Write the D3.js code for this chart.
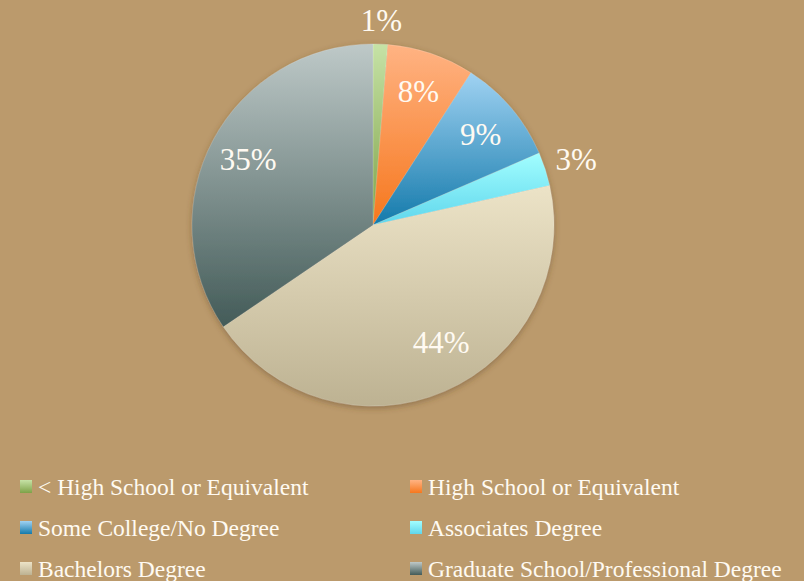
<!DOCTYPE html>
<html>
<head>
<meta charset="utf-8">
<script src="https://d3js.org/d3.v7.min.js"></script>
</head>
<body style="margin:0; background:#bb9a6c">
<svg></svg>
<script>
const width = 804;
const height = 581;

// data (shares in %, clockwise from 12 o'clock)
const categories = [
  '< High School or Equivalent',
  'High School or Equivalent',
  'Some College/No Degree',
  'Associates Degree',
  'Bachelors Degree',
  'Graduate School/Professional Degree'
];
const values = [1.3, 7.8, 9.4, 3.0, 44.0, 34.5];
const labels = ['1%', '8%', '9%', '3%', '44%', '35%'];
const topColors = ['#c6e2a6', '#ffb383', '#a0d2f2', '#a2feff', '#ece3c7', '#bec9c8'];
const bottomColors = ['#7ea248', '#f6771d', '#147aab', '#5fd6ec', '#bdb292', '#435b58'];

const center = [373, 225];
const radius = 181;
// where each label sits, as a share of the radius (small slices get theirs outside)
const labelRadius = { '1%': 1.13, '3%': 1.18 };

const svg = d3.select('svg')
  .attr('width', width)
  .attr('height', height)
  .style('display', 'block');

const defs = svg.append('defs');

categories.forEach((c, i) => {
  const g = defs.append('linearGradient')
    .attr('id', 'grad' + i)
    .attr('x1', 0).attr('y1', 0)
    .attr('x2', 0).attr('y2', 1);
  g.append('stop').attr('offset', '0%').attr('stop-color', topColors[i]);
  g.append('stop').attr('offset', '100%').attr('stop-color', bottomColors[i]);
});

const shadow = defs.append('filter')
  .attr('id', 'shadow')
  .attr('x', '-10%').attr('y', '-10%')
  .attr('width', '120%').attr('height', '120%');
shadow.append('feDropShadow')
  .attr('dx', 0).attr('dy', 2)
  .attr('stdDeviation', 3)
  .attr('flood-color', '#5a4020')
  .attr('flood-opacity', 0.45);

const pie = d3.pie().sort(null).value(d => d);
const arcs = pie(values);
const arc = d3.arc().innerRadius(0).outerRadius(radius);

const chart = svg.append('g')
  .attr('transform', `translate(${center[0]},${center[1]})`);

chart.append('g')
  .attr('filter', 'url(#shadow)')
  .selectAll('path')
  .data(arcs)
  .enter().append('path')
  .attr('d', arc)
  .attr('fill', (d, i) => `url(#grad${i})`)
  .style('stroke', 'rgba(255,255,255,0.25)')
  .style('stroke-width', 0.6);

chart.selectAll('.label')
  .data(arcs)
  .enter().append('text')
  .attr('class', 'label')
  .attr('transform', (d, i) => {
    const r = radius * (labelRadius[labels[i]] || 0.78);
    const c = d3.arc().innerRadius(r).outerRadius(r).centroid(d);
    // the big slice label sits a bit further round, as in the original
    if (labels[i] === '44%') return `translate(${c[0] + 12},${c[1] - 12})`;
    return `translate(${c[0]},${c[1]})`;
  })
  .attr('text-anchor', 'middle')
  .attr('dy', '0.35em')
  .attr('font-family', '"Liberation Serif"')
  .attr('font-size', 31)
  .attr('fill', '#fffaf2')
  .text((d, i) => labels[i]);

// legend, two columns
const legend = svg.append('g');
const items = legend.selectAll('g')
  .data(categories)
  .enter().append('g')
  .attr('transform', (d, i) => `translate(${i % 2 === 0 ? 20 : 410},${487 + Math.floor(i / 2) * 41})`);

items.append('rect')
  .attr('x', 0).attr('y', -7)
  .attr('width', 12).attr('height', 13)
  .attr('fill', (d, i) => `url(#grad${i})`);

items.append('text')
  .attr('x', 18)
  .attr('dy', '0.35em')
  .attr('font-family', '"Liberation Serif"')
  .attr('font-size', 23.5)
  .attr('fill', '#fffaf2')
  .text(d => d);
</script>
</body>
</html>
